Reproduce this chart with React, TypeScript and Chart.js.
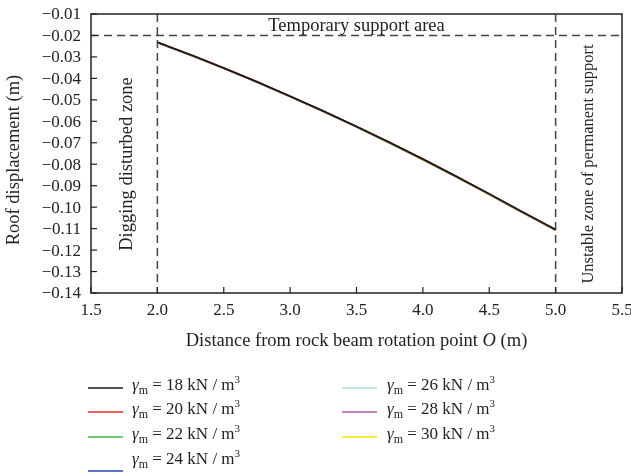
import React, { useEffect, useRef } from "react";
import { Chart, registerables } from "chart.js";

Chart.register(...registerables);

// Distance from rotation point O (m)
const X_VALUES = [2.0, 2.25, 2.5, 2.75, 3.0, 3.25, 3.5, 3.75, 4.0, 4.25, 4.5, 4.75, 5.0];

// Roof displacement (m) for each unit weight
const G18 = [-0.0232, -0.0290, -0.0352, -0.0416, -0.0483, -0.0552, -0.0624, -0.0699, -0.0776, -0.0856, -0.0938, -0.1022, -0.1104];
const G20 = [-0.0232, -0.0290, -0.0352, -0.0416, -0.0483, -0.0552, -0.0624, -0.0699, -0.0776, -0.0856, -0.0938, -0.1022, -0.1105];
const G22 = [-0.0232, -0.0291, -0.0352, -0.0416, -0.0484, -0.0553, -0.0625, -0.0700, -0.0777, -0.0857, -0.0939, -0.1023, -0.1105];
const G24 = [-0.0233, -0.0291, -0.0353, -0.0417, -0.0484, -0.0553, -0.0625, -0.0700, -0.0777, -0.0857, -0.0939, -0.1024, -0.1106];
const G26 = [-0.0233, -0.0291, -0.0353, -0.0417, -0.0484, -0.0554, -0.0626, -0.0701, -0.0778, -0.0858, -0.0940, -0.1024, -0.1107];
const G28 = [-0.0233, -0.0292, -0.0353, -0.0418, -0.0485, -0.0554, -0.0626, -0.0701, -0.0779, -0.0859, -0.0941, -0.1025, -0.1108];
const G30 = [-0.0234, -0.0292, -0.0354, -0.0418, -0.0485, -0.0555, -0.0627, -0.0702, -0.0780, -0.0860, -0.0942, -0.1026, -0.1109];

const SERIES_LABELS = ["18", "20", "22", "24", "26", "28", "30"];
const SERIES_VALUES = [G18, G20, G22, G24, G26, G28, G30];
const SERIES_COLORS = ["#1a1a1a", "#e8262b", "#3cbf3c", "#2846b4", "#a6dde3", "#b25aa8", "#f2e600"];

const X_TICKS = [1.5, 2.0, 2.5, 3.0, 3.5, 4.0, 4.5, 5.0, 5.5];
const Y_TICKS = [-0.01, -0.02, -0.03, -0.04, -0.05, -0.06, -0.07, -0.08, -0.09, -0.1, -0.11, -0.12, -0.13, -0.14];

const SUPPORT_LEVEL = -0.02;
const ZONE_START = 2.0;
const ZONE_END = 5.0;

const FONT = "'Liberation Serif', 'Times New Roman', serif";

function fmt(v: number) {
  return v.toFixed(2).replace("-", "\u2212");
}

function drawRich(ctx: CanvasRenderingContext2D, x: number, y: number, parts: { t: string; font: string; dy: number }[]) {
  let cx = x;
  ctx.textAlign = "left";
  ctx.textBaseline = "alphabetic";
  for (const p of parts) {
    ctx.font = p.font;
    ctx.fillText(p.t, cx, y + p.dy);
    cx += ctx.measureText(p.t).width;
  }
  return cx;
}

const overlayPlugin = {
  id: "overlay",
  beforeDatasetsDraw(chart: any) {
    const ctx = chart.ctx as CanvasRenderingContext2D;
    const { left, right, top, bottom } = chart.chartArea;
    const xs = chart.scales.x;
    const ys = chart.scales.y;
    ctx.save();
    ctx.strokeStyle = "#444";
    ctx.lineWidth = 1.5;
    ctx.setLineDash([8, 5]);
    const yl = ys.getPixelForValue(SUPPORT_LEVEL);
    ctx.beginPath();
    ctx.moveTo(left, yl);
    ctx.lineTo(right, yl);
    ctx.stroke();
    for (const v of [ZONE_START, ZONE_END]) {
      const px = xs.getPixelForValue(v);
      ctx.beginPath();
      ctx.moveTo(px, top);
      ctx.lineTo(px, bottom);
      ctx.stroke();
    }
    ctx.restore();
  },
  afterDraw(chart: any) {
    const ctx = chart.ctx as CanvasRenderingContext2D;
    const { left, right, top, bottom } = chart.chartArea;
    const xs = chart.scales.x;
    const ys = chart.scales.y;
    ctx.save();
    // frame
    ctx.strokeStyle = "#222";
    ctx.lineWidth = 1.5;
    ctx.setLineDash([]);
    ctx.strokeRect(left, top, right - left, bottom - top);
    // ticks (inside)
    ctx.lineWidth = 1.2;
    ctx.fillStyle = "#222";
    ctx.font = `17px ${FONT}`;
    for (const v of Y_TICKS) {
      const py = ys.getPixelForValue(v);
      ctx.beginPath();
      ctx.moveTo(left, py);
      ctx.lineTo(left + 6, py);
      ctx.stroke();
      ctx.textAlign = "right";
      ctx.textBaseline = "middle";
      ctx.fillText(fmt(v), left - 10, py + 1);
    }
    for (const v of X_TICKS) {
      const px = xs.getPixelForValue(v);
      ctx.beginPath();
      ctx.moveTo(px, bottom);
      ctx.lineTo(px, bottom - 6);
      ctx.stroke();
      ctx.textAlign = "center";
      ctx.textBaseline = "middle";
      ctx.fillText(v.toFixed(1), px, bottom + 18);
    }
    // axis titles
    const cxPlot = (left + right) / 2;
    const TF = `18.5px ${FONT}`;
    const TFI = `italic 18.5px ${FONT}`;
    const p1 = "Distance from rock beam rotation point ";
    const p2 = "O";
    const p3 = " (m)";
    ctx.font = TF;
    const w1 = ctx.measureText(p1).width;
    const w3 = ctx.measureText(p3).width;
    ctx.font = TFI;
    const w2 = ctx.measureText(p2).width;
    const total = w1 + w2 + w3;
    drawRich(ctx, cxPlot - total / 2, bottom + 53, [
      { t: p1, font: TF, dy: 0 },
      { t: p2, font: TFI, dy: 0 },
      { t: p3, font: TF, dy: 0 },
    ]);
    ctx.save();
    ctx.translate(14, 160);
    ctx.rotate(-Math.PI / 2);
    ctx.textAlign = "center";
    ctx.textBaseline = "middle";
    ctx.font = TF;
    ctx.fillText("Roof displacement (m)", 0, 0);
    ctx.restore();
    // zone labels
    ctx.textAlign = "center";
    ctx.textBaseline = "middle";
    ctx.font = TF;
    ctx.fillText("Temporary support area", cxPlot, (top + ys.getPixelForValue(SUPPORT_LEVEL)) / 2 + 1);
    ctx.save();
    ctx.translate(xs.getPixelForValue(ZONE_START) - 30, 164);
    ctx.rotate(-Math.PI / 2);
    ctx.fillText("Digging disturbed zone", 0, 0);
    ctx.restore();
    ctx.save();
    ctx.font = `16.5px ${FONT}`;
    ctx.translate(xs.getPixelForValue(ZONE_END) + 33, 164);
    ctx.rotate(-Math.PI / 2);
    ctx.fillText("Unstable zone of permanent support", 0, 0);
    ctx.restore();
    // legend
    const cols = [
      { lx: 88, tx: 132 },
      { lx: 342, tx: 387 },
    ];
    const rowY = [386, 410, 435, 460];
    SERIES_LABELS.forEach((lab, i) => {
      const col = i < 4 ? cols[0] : cols[1];
      const r = i < 4 ? i : i - 4;
      const ty = rowY[r];
      const lineY = r === 3 ? ty + 11 : ty + 2;
      ctx.strokeStyle = SERIES_COLORS[i];
      ctx.lineWidth = 1.5;
      ctx.beginPath();
      ctx.moveTo(col.lx, lineY);
      ctx.lineTo(col.lx + 35, lineY);
      ctx.stroke();
      ctx.fillStyle = "#222";
      drawRich(ctx, col.tx, ty + 4, [
        { t: "\u03b3", font: `italic 17px ${FONT}`, dy: 0 },
        { t: "m", font: `12px ${FONT}`, dy: 4 },
        { t: " = " + lab + " kN / m", font: `17px ${FONT}`, dy: 0 },
        { t: "3", font: `11px ${FONT}`, dy: -7 },
      ]);
    });
    ctx.restore();
  },
};

export default function App() {
  const ref = useRef<HTMLCanvasElement | null>(null);
  useEffect(() => {
    if (!ref.current) return;
    const datasets = SERIES_LABELS.map((lab, i) => ({
      label: `γm = ${lab} kN/m3`,
      data: X_VALUES.map((x, j) => ({ x, y: SERIES_VALUES[i][j] })),
      borderColor: SERIES_COLORS[i],
      borderWidth: 1.6,
      pointRadius: 0,
      fill: false,
      cubicInterpolationMode: "monotone" as const,
    }));
    const chart = new Chart(ref.current, {
      type: "line",
      data: { datasets },
      options: {
        animation: false,
        responsive: false,
        layout: { padding: { left: 91, top: 14, right: 9, bottom: 183 } },
        plugins: { legend: { display: false }, tooltip: { enabled: false } },
        scales: {
          x: { type: "linear", min: 1.5, max: 5.5, display: false },
          y: { type: "linear", min: -0.14, max: -0.01, display: false },
        },
      },
      plugins: [overlayPlugin],
    });
    return () => chart.destroy();
  }, []);
  return (
    <div style={{ position: "absolute", left: 0, top: 0, width: 631, height: 476, background: "#fff" }}>
      <canvas ref={ref} width={631} height={476} style={{ width: 631, height: 476, display: "block" }} />
    </div>
  );
}
